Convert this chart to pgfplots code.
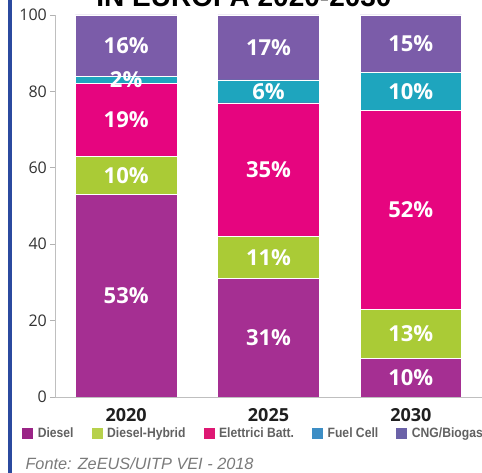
\documentclass[border=0pt]{standalone}
\usepackage{pgfplots}
\pgfplotsset{compat=1.18}
\usepackage{pgfplotstable}
\usepackage{fontspec}
\setmainfont{Liberation Sans}
\newfontfamily\labfont{Open Sans}
\newfontfamily\legfont[FakeStretch=0.9]{Liberation Sans}

% bar colours
\definecolor{cDiesel}{HTML}{A52F92}
\definecolor{cHybrid}{HTML}{AACB36}
\definecolor{cElet}{HTML}{E6057F}
\definecolor{cFuel}{HTML}{1EA5BE}
\definecolor{cCNG}{HTML}{7B5CA9}
% legend swatches
\definecolor{lDiesel}{HTML}{9A2486}
\definecolor{lHybrid}{HTML}{B7D14C}
\definecolor{lElet}{HTML}{DE1873}
\definecolor{lFuel}{HTML}{3D8EC5}
\definecolor{lCNG}{HTML}{6B62A8}
\definecolor{stripe}{HTML}{2B4A9F}

% share of new buses by powertrain (%)
\pgfplotstableread{
x diesel hybrid elettr fuel cng
0 53 10 19 2  16
1 31 11 35 6  17
2 10 13 52 10 15
}\busdata

\begin{document}
\begin{tikzpicture}
\useasboundingbox (0pt,0pt) rectangle (482pt,473pt);
\fill[stripe] (8pt,0pt) rectangle (12pt,473pt);
\node[anchor=base, font=\bfseries\fontsize{28}{28}\selectfont] at (244pt,466pt) {IN EUROPA 2020-2030};

\begin{axis}[
  at={(55pt,76pt)}, anchor=south west,
  scale only axis, width=427pt, height=382pt,
  ybar stacked, bar width=0.713,
  xmin=-0.5, xmax=2.5, ymin=0, ymax=100,
  /pgf/number format/assume math mode=true,
  axis lines*=left,
  axis line style={draw=black!25, line width=0.8pt},
  tick align=outside, major tick length=5pt,
  xtick={0,1,2}, xticklabels={2020,2025,2030},
  x tick style={draw=none},
  extra x ticks={0.5,1.5}, extra x tick labels={},
  extra x tick style={tick align=inside, major tick length=7pt,
    tick style={draw=black!30, line width=0.6pt}},
  ytick={0,20,40,60,80,100},
  y tick style={draw=black!30, line width=0.6pt},
  yticklabel style={font=\labfont\fontsize{16}{16}\selectfont, text=black!80,
    inner sep=0pt, xshift=-3pt},
  xticklabel style={font=\labfont\bfseries\fontsize{18}{18}\selectfont, text=black!88,
    inner sep=0pt, yshift=-6pt},
  every axis plot/.append style={draw=white, line width=0.6pt},
  point meta=explicit,
  nodes near coords={\pgfmathprintnumber{\pgfplotspointmeta}\%},
  every node near coord/.append style={font=\labfont\bfseries\fontsize{22}{22}\selectfont,
    text=white, anchor=center},
  legend style={at={(axis description cs:-0.0773,-0.094)}, anchor=west,
    draw=none, fill=none, inner sep=0pt,
    font=\legfont\bfseries\fontsize{13.5}{13.5}\selectfont, text=black!62,
    nodes={inner sep=0pt},
    /tikz/every odd column/.append style={column sep=5pt},
    /tikz/every even column/.append style={column sep=18pt}},
  legend cell align=left,
  legend columns=5,
]
\addplot[fill=cDiesel, legend image code/.code={\fill[lDiesel] (0pt,-5pt) rectangle (10pt,5pt);}]
  table[x=x, y=diesel, meta=diesel] {\busdata};
\addplot[fill=cHybrid, legend image code/.code={\fill[lHybrid] (0pt,-5pt) rectangle (10pt,5pt);}]
  table[x=x, y=hybrid, meta=hybrid] {\busdata};
\addplot[fill=cElet, legend image code/.code={\fill[lElet] (0pt,-5pt) rectangle (10pt,5pt);}]
  table[x=x, y=elettr, meta=elettr] {\busdata};
\addplot[fill=cFuel, legend image code/.code={\fill[lFuel] (0pt,-5pt) rectangle (10pt,5pt);}]
  table[x=x, y=fuel, meta=fuel] {\busdata};
\addplot[fill=cCNG, legend image code/.code={\fill[lCNG] (0pt,-5pt) rectangle (10pt,5pt);}]
  table[x=x, y=cng, meta=cng] {\busdata};
\legend{Diesel, Diesel-Hybrid, Elettrici Batt., Fuel Cell, CNG/Biogas}
\end{axis}

\node[anchor=base west, font=\itshape\fontsize{16.3}{16.3}\selectfont, text=black!52]
  at (22pt,3pt) {Fonte: ZeEUS/UITP VEI - 2018};
\end{tikzpicture}
\end{document}
